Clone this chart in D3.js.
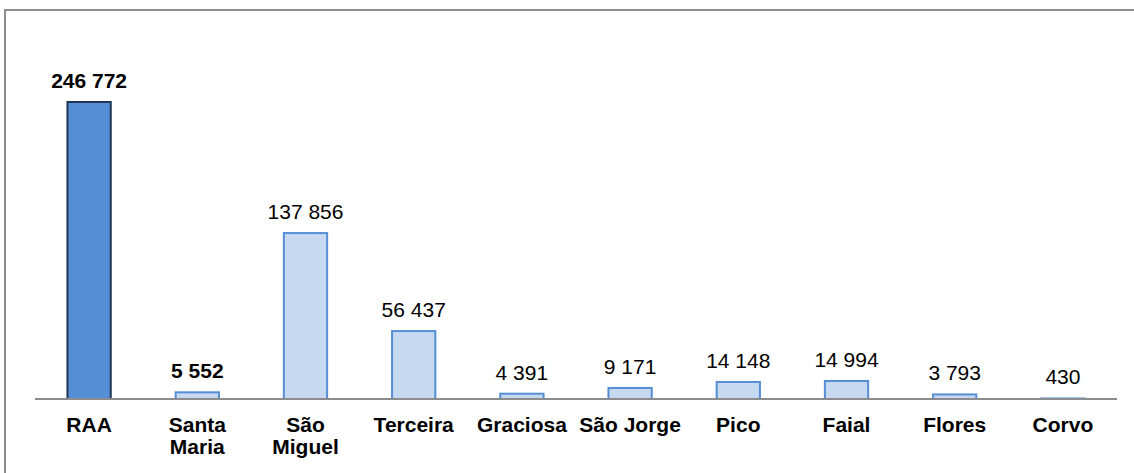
<!DOCTYPE html>
<html><head><meta charset="utf-8">
<script src="https://cdn.jsdelivr.net/npm/d3@7"></script>
<style>body{margin:0;background:#fff}svg{display:block}text{font-family:"Liberation Sans",Arial,sans-serif}</style>
</head><body><svg id="c" width="1134" height="473"></svg>
<script>
const categories = ["RAA", "Santa Maria", "São Miguel", "Terceira", "Graciosa", "São Jorge", "Pico", "Faial", "Flores", "Corvo"];
const categoryLines = [["RAA"], ["Santa", "Maria"], ["São", "Miguel"], ["Terceira"], ["Graciosa"], ["São Jorge"], ["Pico"], ["Faial"], ["Flores"], ["Corvo"]];
const values = [246772, 5552, 137856, 56437, 4391, 9171, 14148, 14994, 3793, 430];
const valueLabels = ["246 772", "5 552", "137 856", "56 437", "4 391", "9 171", "14 148", "14 994", "3 793", "430"];
const boldValue = [true, true, false, false, false, false, false, false, false, false];

const svg = d3.select("#c");
svg.append("rect").attr("x", 5).attr("y", 10).attr("width", 1140).attr("height", 480)
  .attr("fill", "none").attr("stroke", "#8c8c8c").attr("stroke-width", 2);

const x = d3.scaleBand().domain(categories).range([35, 1117]).paddingInner(0.6).paddingOuter(0.3);
const baseY = 399;
const y = d3.scaleLinear().domain([0, 246772]).range([baseY, 102]);

svg.selectAll("rect.bar").data(categories).enter().append("rect")
  .attr("class", "bar")
  .attr("x", d => x(d))
  .attr("y", (d, i) => y(values[i]))
  .attr("width", x.bandwidth())
  .attr("height", (d, i) => baseY - y(values[i]))
  .attr("fill", (d, i) => i === 0 ? "#558ed5" : "#c6d9f1")
  .attr("stroke", (d, i) => i === 0 ? "#1f3553" : "#558ed5")
  .attr("stroke-width", 2);

svg.append("line").attr("x1", 35).attr("x2", 1117).attr("y1", baseY).attr("y2", baseY)
  .attr("stroke", "#8c8c8c").attr("stroke-width", 2);

svg.selectAll("text.val").data(categories).enter().append("text")
  .attr("class", "val")
  .attr("x", d => x(d) + x.bandwidth() / 2)
  .attr("y", (d, i) => y(values[i]) - 14)
  .attr("text-anchor", "middle")
  .attr("font-size", 21)
  .attr("font-weight", (d, i) => boldValue[i] ? "bold" : "normal")
  .attr("fill", "#000")
  .text((d, i) => valueLabels[i]);

const cat = svg.selectAll("text.cat").data(categories).enter().append("text")
  .attr("class", "cat")
  .attr("x", d => x(d) + x.bandwidth() / 2)
  .attr("y", 432)
  .attr("text-anchor", "middle")
  .attr("font-size", 21)
  .attr("font-weight", "bold")
  .attr("fill", "#000");
cat.each(function(d, i) {
  const t = d3.select(this);
  categoryLines[i].forEach((ln, j) => {
    t.append("tspan").attr("x", x(d) + x.bandwidth() / 2).attr("dy", j === 0 ? 0 : 22).text(ln);
  });
});
</script></body></html>
